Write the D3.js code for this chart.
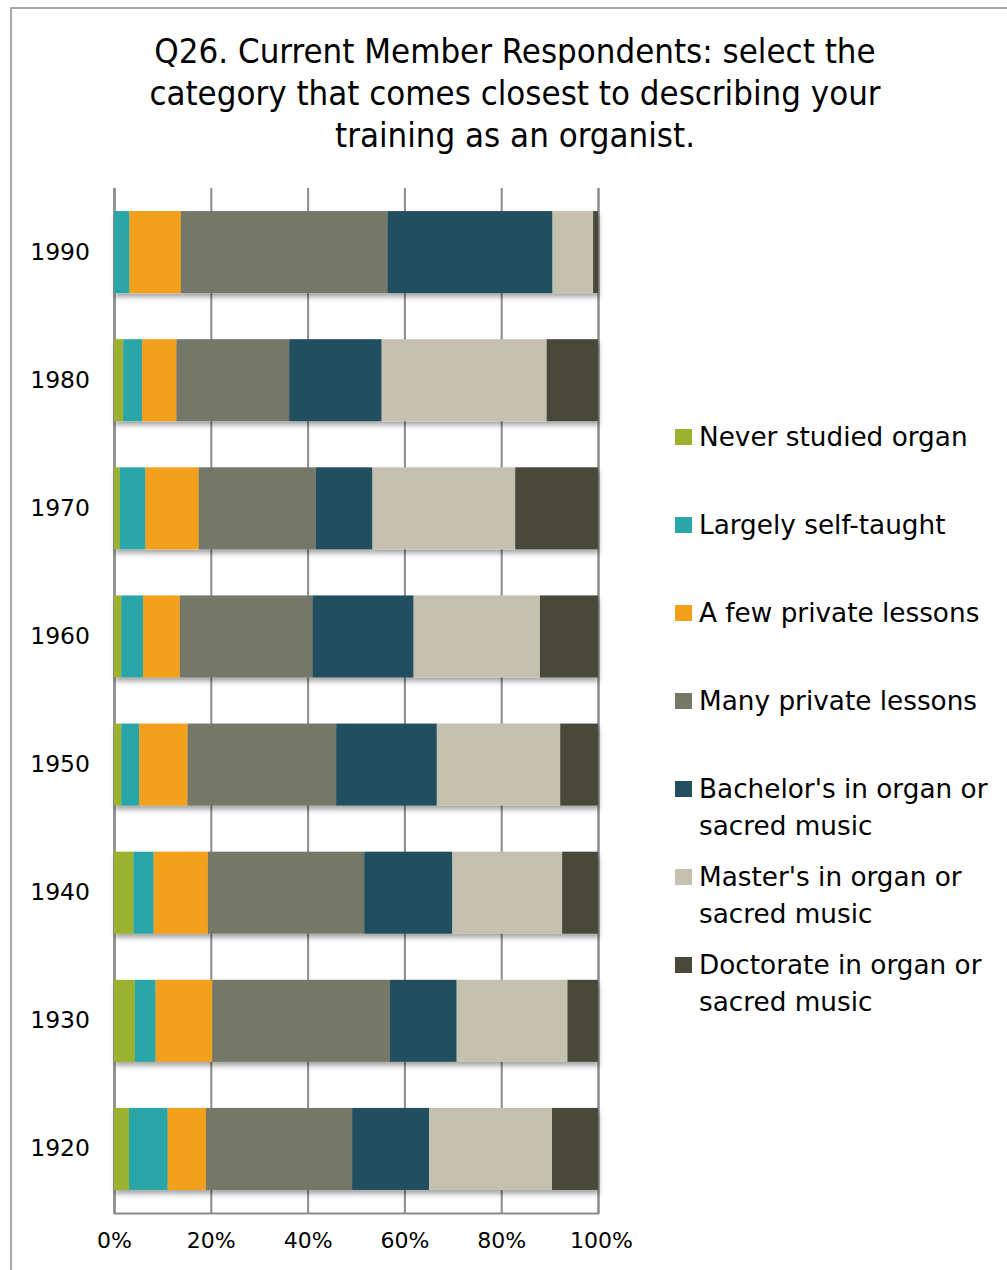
<!DOCTYPE html>
<html>
<head>
<meta charset="utf-8">
<script src="https://cdn.jsdelivr.net/npm/d3@7"></script>
<style>
  html, body { margin: 0; padding: 0; background: #fff; }
  svg { display: block; }
</style>
</head>
<body>
<script>
// Training categories, stacked left to right
const categories = [
  "Never studied organ",
  "Largely self-taught",
  "A few private lessons",
  "Many private lessons",
  "Bachelor's in organ or sacred music",
  "Master's in organ or sacred music",
  "Doctorate in organ or sacred music"
];

// Birth decades, top to bottom
const decades = ["1990", "1980", "1970", "1960", "1950", "1940", "1930", "1920"];

// Share of respondents (%) per decade, in category order
const never     = [0.0, 1.9, 1.2, 1.5, 1.5, 4.0, 4.3, 3.1];
const selfTaught = [3.2, 3.9, 5.3, 4.5, 3.7, 4.2, 4.3, 8.0];
const fewLessons = [10.6, 7.1, 11.0, 7.6, 10.0, 11.2, 11.7, 7.9];
const manyLessons = [42.7, 23.3, 24.2, 27.4, 30.7, 32.3, 36.7, 30.2];
const bachelors = [34.1, 19.1, 11.7, 20.9, 20.8, 18.2, 13.8, 15.9];
const masters   = [8.4, 34.1, 29.5, 26.1, 25.5, 22.7, 22.9, 25.4];
const doctorate = [1.0, 10.6, 17.1, 12.0, 7.8, 7.4, 6.3, 9.5];

const tickValues = [0, 20, 40, 60, 80, 100];

const colors = ["#9AB22E", "#2CA6A8", "#F3A01B", "#757867", "#234F5E", "#C4C2AF", "#4A483A"];

const titleLines = [
  "Q26. Current Member Respondents: select the",
  "category that comes closest to describing your",
  "training as an organist."
];

const seriesValues = [never, selfTaught, fewLessons, manyLessons, bachelors, masters, doctorate];
const rows = decades.map((d, i) => {
  const r = { decade: d };
  categories.forEach((c, k) => { r[c] = seriesValues[k][i]; });
  return r;
});

const W = 1007, H = 1270;
const plot = { left: 114, right: 598, top: 188, bottom: 1213 };
const gridColor = "#8C8C8C";
const labelFont = "'DejaVu Sans', Verdana, sans-serif";

const svg = d3.select("body").append("svg")
  .attr("width", W).attr("height", H);

// soft shadow under the bars
const defs = svg.append("defs");
const f = defs.append("filter").attr("id", "barShadow")
  .attr("x", "-5%").attr("y", "-10%").attr("width", "115%").attr("height", "140%");
f.append("feDropShadow").attr("dx", 1).attr("dy", 4).attr("stdDeviation", 2.5)
  .attr("flood-color", "#000").attr("flood-opacity", 0.35);

// outer frame (continues past the right and bottom edges)
svg.append("path")
  .attr("d", `M11,${H + 5}V8H${W + 5}`)
  .attr("fill", "none").attr("stroke", gridColor).attr("stroke-width", 1.5);

// title
const title = svg.append("text")
  .attr("text-anchor", "middle")
  .attr("font-family", "'Liberation Sans Narrow', 'DejaVu Sans Condensed', 'Arial Narrow', sans-serif")
  .attr("font-size", 34.5)
  .attr("fill", "#000");
titleLines.forEach((t, i) => {
  title.append("tspan").attr("x", 515).attr("y", 63 + i * 42).text(t);
});

const x = d3.scaleLinear().domain([0, 100]).range([plot.left, plot.right]);
const y = d3.scaleBand().domain(decades).range([plot.top, plot.bottom])
  .paddingInner(0.36).paddingOuter(0.18);
const color = d3.scaleOrdinal().domain(categories).range(colors);

// vertical gridlines
const gx = d3.axisBottom(x).tickValues(tickValues)
  .tickSize(-(plot.bottom - plot.top)).tickFormat(d => d + "%");
const xAxis = svg.append("g")
  .attr("transform", `translate(0,${plot.bottom})`)
  .call(gx);
xAxis.select(".domain").attr("stroke", gridColor).attr("stroke-width", 2);
xAxis.selectAll(".tick line").attr("stroke", gridColor).attr("stroke-width", 2);
xAxis.selectAll(".tick text")
  .attr("font-family", labelFont).attr("font-size", 22).attr("fill", "#000")
  .attr("y", 0).attr("dy", "1.6em");
xAxis.selectAll(".tick").filter(d => d === 100).select("text").attr("dx", 3);

// left axis line and decade labels
const yAxis = svg.append("g")
  .attr("transform", `translate(${plot.left},0)`)
  .call(d3.axisLeft(y).tickSize(0).tickPadding(24));
yAxis.select(".domain").attr("stroke", gridColor).attr("stroke-width", 2);
yAxis.selectAll(".tick text")
  .attr("font-family", labelFont).attr("font-size", 23.5).attr("fill", "#000");

// stacked bars
const stacked = d3.stack().keys(categories)(rows);
const barsG = svg.append("g").attr("filter", "url(#barShadow)");
barsG.selectAll("g").data(stacked).join("g")
  .attr("fill", d => color(d.key))
  .selectAll("rect").data(d => d).join("rect")
    .attr("x", d => x(d[0]))
    .attr("y", d => y(d.data.decade))
    .attr("width", d => Math.max(0, x(d[1]) - x(d[0])))
    .attr("height", y.bandwidth());

// legend
const legend = svg.append("g")
  .attr("font-family", labelFont).attr("font-size", 26.3).attr("fill", "#000");
const legendLines = [
  ["Never studied organ"],
  ["Largely self-taught"],
  ["A few private lessons"],
  ["Many private lessons"],
  ["Bachelor's in organ or", "sacred music"],
  ["Master's in organ or", "sacred music"],
  ["Doctorate in organ or", "sacred music"]
];
categories.forEach((c, i) => {
  const cy = 437 + i * 88;
  const g = legend.append("g");
  g.append("rect").attr("x", 675).attr("y", cy - 8)
    .attr("width", 17).attr("height", 16).attr("fill", color(c));
  const t = g.append("text").attr("x", 699).attr("y", cy);
  legendLines[i].forEach((ln, j) => {
    t.append("tspan").attr("x", 699).attr("dy", j === 0 ? "0.36em" : 37).text(ln);
  });
});
</script>
</body>
</html>
